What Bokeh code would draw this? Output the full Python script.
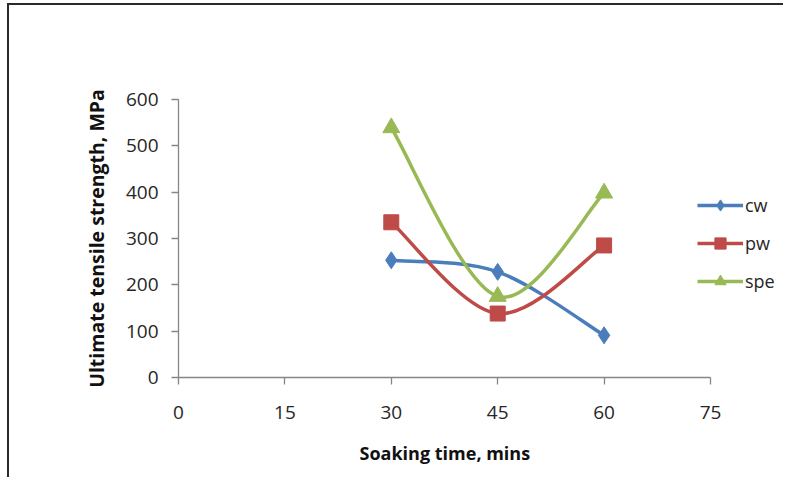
import numpy as np
from bokeh.plotting import figure
from bokeh.models import Range1d, FixedTicker, Legend, LegendItem, Title
from bokeh.embed import file_html
from bokeh.resources import INLINE

# ---- data ----
soaking_time = [30, 45, 60]
cw = [253, 228, 91]
pw = [335, 138, 285]
spe = [539, 175, 398]
series_names = ["cw", "pw", "spe"]
x_ticks = [0, 15, 30, 45, 60, 75]
y_ticks = [0, 100, 200, 300, 400, 500, 600]
x_label = "Soaking time, mins"
y_label = "Ultimate tensile strength, MPa"

colors = {"cw": "#4A7EBB", "pw": "#BE4B48", "spe": "#98B954"}
markers = {"cw": ("diamond", 17), "pw": ("square", 15), "spe": ("triangle", 17)}
FONT = "Open Sans"


def smooth_segments(xs, ys):
    """Catmull-Rom style (Excel-like) smoothing -> cubic bezier control points."""
    xs = np.asarray(xs, float)
    ys = np.asarray(ys, float)
    n = len(xs)
    out = {k: [] for k in ("x0", "y0", "x1", "y1", "cx0", "cy0", "cx1", "cy1")}
    for i in range(n - 1):
        a = i - 1 if i > 0 else i
        d = i + 2 if i + 2 < n else i + 1
        out["x0"].append(xs[i]); out["y0"].append(ys[i])
        out["x1"].append(xs[i + 1]); out["y1"].append(ys[i + 1])
        out["cx0"].append(xs[i] + (xs[i + 1] - xs[a]) / 6.0)
        out["cy0"].append(ys[i] + (ys[i + 1] - ys[a]) / 6.0)
        out["cx1"].append(xs[i + 1] - (xs[d] - xs[i]) / 6.0)
        out["cy1"].append(ys[i + 1] - (ys[d] - ys[i]) / 6.0)
    return out


W, H = 776, 477
MBL, MBR, MBT, MBB = 169, 2, 94, 105
frame_w = W - MBL - MBR
x_end = 75 * frame_w / 532.0   # 0..75 spans 532 px; extra room on the right for the legend

p = figure(width=W, height=H, output_backend="svg", toolbar_location=None,
           x_range=Range1d(0, x_end), y_range=Range1d(0, 600),
           min_border_left=MBL, min_border_right=MBR, min_border_top=MBT, min_border_bottom=MBB)
p.margin = (3, 0, 0, 7)
p.styles = {"border-top": "2px solid #2a2a2a", "border-left": "2px solid #2a2a2a"}
p.outline_line_color = None
p.xgrid.grid_line_color = None
p.ygrid.grid_line_color = None
p.background_fill_color = "white"
p.border_fill_color = "white"

for ax, ticks in ((p.xaxis, x_ticks), (p.yaxis, y_ticks)):
    ax.ticker = FixedTicker(ticks=ticks)
    ax.minor_tick_line_color = None
    ax.axis_line_color = "#868686"
    ax.major_tick_line_color = "#868686"
    ax.axis_line_width = 1.3
    ax.major_tick_line_width = 1.3
    ax.major_tick_in = 0
    ax.major_tick_out = 7
    ax.major_label_text_font = FONT
    ax.major_label_text_font_size = "19px"
    ax.major_label_text_color = "#262626"
    ax.axis_label_text_font = FONT
    ax.axis_label_text_font_style = "bold"
    ax.axis_label_text_color = "#111111"

p.xaxis.bounds = (0, 75)
p.yaxis.axis_label = y_label
p.yaxis.axis_label_text_font_size = "19.5px"
p.xaxis.major_label_standoff = 21
p.yaxis.major_label_standoff = 13
p.yaxis.axis_label_standoff = 13

# x-axis title placed under the 0..75 part of the axis
xt = Title(text=x_label, align="left", offset=181, standoff=34,
           text_font=FONT, text_font_size="18px", text_font_style="bold", text_color="#111111")
p.add_layout(xt, "below")

items = []
for name, vals in zip(series_names, (cw, pw, spe)):
    seg = smooth_segments(soaking_time, vals)
    br = p.bezier(x0="x0", y0="y0", x1="x1", y1="y1", cx0="cx0", cy0="cy0", cx1="cx1", cy1="cy1",
                  source=seg, line_color=colors[name], line_width=3.5)
    mk, sz = markers[name]
    sr = p.scatter(soaking_time, vals, marker=mk, size=sz,
                   fill_color=colors[name], line_color=colors[name], line_width=1)
    items.append(LegendItem(label=name, renderers=[br, sr]))

legend = Legend(items=items, location=(519, 82))
legend.border_line_color = None
legend.background_fill_alpha = 0
legend.padding = 0
legend.margin = 0
legend.glyph_width = 46
legend.glyph_height = 28
legend.label_height = 28
legend.spacing = 10
legend.label_standoff = 2
legend.label_text_font = FONT
legend.label_text_font_size = "18px"
legend.label_text_color = "#262626"
p.add_layout(legend, "center")

open("out.html", "w").write(file_html(p, INLINE))
